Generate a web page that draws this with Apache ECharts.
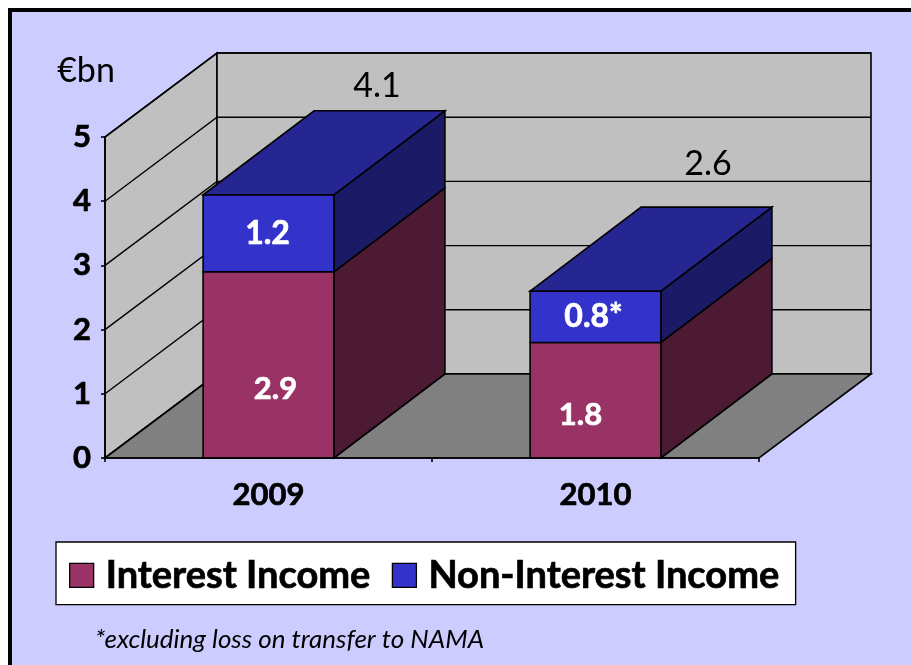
<!DOCTYPE html>
<html>
<head>
<meta charset="utf-8">
<style>html,body{margin:0;padding:0;background:#fff}#c{width:911px;height:665px}</style>
<script src="https://cdn.jsdelivr.net/npm/echarts@6/dist/echarts.min.js"></script>
</head>
<body>
<div id="c"></div>
<script>
const categories = ['2009', '2010'];
const interestIncome = [2.9, 1.8];
const nonInterestIncome = [1.2, 0.8];
const totals = [4.1, 2.6];
const interestLabels = ['2.9', '1.8'];
const nonInterestLabels = ['1.2', '0.8*'];
const totalLabels = ['4.1', '2.6'];
const yTicks = [0, 1, 2, 3, 4, 5];

const FONT = 'Lato, "Open Sans", sans-serif';
const WALL_DEPTH = [112, -84];
const BAR_DEPTH = [111, -84];
const BAR_RATIO = 0.4;
const interestNudge = [[7, 24], [-15, 15]];
const nonInterestNudge = [[-1, 0], [-2, 0]];
const totalNudge = [[108.5, -109], [112.5, -127]];
const LINE = { stroke: '#000', lineWidth: 1.6 };

function poly(points, fill, z2) {
  return { type: 'polygon', z2: z2 || 0, shape: { points }, style: Object.assign({ fill }, LINE) };
}
function barFaces(params, api, colors, drawTop) {
  const idx = api.value(0);
  const base = api.coord([idx, api.value(1)]);
  const top = api.coord([idx, api.value(2)]);
  const w = api.size([1, 0])[0] * BAR_RATIO;
  const l = base[0] - w / 2, r = base[0] + w / 2;
  const dx = BAR_DEPTH[0], dy = BAR_DEPTH[1];
  const faces = [
    poly([[r, base[1]], [r + dx, base[1] + dy], [r + dx, top[1] + dy], [r, top[1]]], colors.side),
    poly([[l, base[1]], [r, base[1]], [r, top[1]], [l, top[1]]], colors.front)
  ];
  if (drawTop) faces.push(poly([[l, top[1]], [r, top[1]], [r + dx, top[1] + dy], [l + dx, top[1] + dy]], colors.top));
  return faces;
}
function labelEl(params, api, text, nudge, fill, weight, size, bold) {
  const idx = api.value(0);
  const a = api.coord([idx, api.value(1)]);
  const b = api.coord([idx, api.value(2)]);
  const style = { text, fill, font: weight + ' ' + size + 'px ' + FONT, align: 'center', verticalAlign: 'middle' };
  if (bold) { style.stroke = fill; style.lineWidth = 0.7; }
  return {
    type: 'text', z2: 5,
    x: a[0] + nudge[idx][0], y: (a[1] + b[1]) / 2 + nudge[idx][1],
    style
  };
}

const option = {
  animation: false,
  backgroundColor: '#CCCCFF',
  grid: { left: 105, top: 137, width: 654, height: 321 },
  tooltip: { show: false },
  xAxis: {
    type: 'category', data: categories, z: 10,
    boundaryGap: true,
    axisLine: { lineStyle: { color: '#000', width: 1.6 } },
    axisTick: { show: true, length: 4, alignWithLabel: false, lineStyle: { color: '#000', width: 1.6 } },
    axisLabel: { color: '#000', fontFamily: FONT, fontWeight: 'bold', fontSize: 31, margin: 21, textBorderColor: '#000', textBorderWidth: 0.7 }
  },
  yAxis: {
    type: 'value', min: 0, max: 5, interval: 1, z: 10,
    splitLine: { show: false },
    axisLine: { show: true, lineStyle: { color: '#000', width: 1.6 } },
    axisTick: { show: true, length: 4, lineStyle: { color: '#000', width: 1.6 } },
    axisLabel: { color: '#000', fontFamily: FONT, fontWeight: 'bold', fontSize: 31, margin: 14, padding: [8, 0, 0, 0], textBorderColor: '#000', textBorderWidth: 0.7 }
  },
  legend: {
    data: ['Interest Income', 'Non-Interest Income'],
    left: 56, top: 542,
    padding: [14, 16, 10, 13],
    itemGap: 21, itemWidth: 24, itemHeight: 24, icon: 'rect',
    backgroundColor: '#fff', borderColor: '#000', borderWidth: 1.3, borderRadius: 0,
    selectedMode: false,
    itemStyle: { borderColor: '#000', borderWidth: 1.3 },
    textStyle: { color: '#000', fontFamily: FONT, fontWeight: 'bold', fontSize: 38, padding: [3, 0, 0, 7], textBorderColor: '#000', textBorderWidth: 0.7 }
  },
  graphic: [
    { type: 'rect', silent: true, z: 100, shape: { x: 0, y: 0, width: 911, height: 8 }, style: { fill: '#fff' } },
    { type: 'rect', silent: true, z: 100, shape: { x: 0, y: 0, width: 8, height: 665 }, style: { fill: '#fff' } },
    { type: 'rect', silent: true, z: 100, shape: { x: 8, y: 8, width: 903, height: 4 }, style: { fill: '#000' } },
    { type: 'rect', silent: true, z: 100, shape: { x: 8, y: 8, width: 4, height: 657 }, style: { fill: '#000' } },
    { type: 'text', silent: true, z: 100, x: 86, y: 71, style: { text: '€bn', fill: '#000', font: '34px ' + FONT, align: 'center', verticalAlign: 'middle' } },
    { type: 'text', silent: true, z: 100, x: 95, y: 640, style: { text: '*excluding loss on transfer to NAMA', fill: '#000', font: 'italic 26px ' + FONT, align: 'left', verticalAlign: 'middle' } }
  ],
  series: [
    {
      name: 'Walls', type: 'custom', z: 1, silent: true,
      data: [[0]],
      encode: { x: 0 },
      renderItem(params, api) {
        const c = params.coordSys;
        const dx = WALL_DEPTH[0], dy = WALL_DEPTH[1];
        const x0 = c.x, x1 = c.x + c.width, y0 = c.y + c.height, y5 = c.y;
        return {
          type: 'group',
          children: [
            poly([[x0, y0], [x0, y5], [x0 + dx, y5 + dy], [x0 + dx, y0 + dy]], '#C0C0C0'),
            poly([[x0 + dx, y0 + dy], [x0 + dx, y5 + dy], [x1 + dx, y5 + dy], [x1 + dx, y0 + dy]], '#C0C0C0')
          ]
        };
      }
    },
    {
      name: 'Gridlines', type: 'custom', z: 1, silent: true,
      data: yTicks.map(v => [0, v]),
      encode: { x: 0, y: 1 },
      renderItem(params, api) {
        const c = params.coordSys;
        const y = api.coord([0, api.value(1)])[1];
        const dx = WALL_DEPTH[0], dy = WALL_DEPTH[1];
        return {
          type: 'polyline',
          shape: { points: [[c.x, y], [c.x + dx, y + dy], [c.x + c.width + dx, y + dy]] },
          style: { fill: 'none', stroke: '#000', lineWidth: 1.4 }
        };
      }
    },
    {
      name: 'Floor', type: 'custom', z: 1, silent: true,
      data: [[0]],
      encode: { x: 0 },
      renderItem(params, api) {
        const c = params.coordSys;
        const dx = WALL_DEPTH[0], dy = WALL_DEPTH[1];
        const x0 = c.x, x1 = c.x + c.width, y0 = c.y + c.height;
        return poly([[x0, y0], [x1, y0], [x1 + dx, y0 + dy], [x0 + dx, y0 + dy]], '#808080');
      }
    },
    {
      name: 'Interest Income', type: 'custom', z: 3,
      itemStyle: { color: '#993366' },
      data: interestIncome.map((v, i) => [i, 0, v]),
      encode: { x: 0, y: 2 },
      renderItem(params, api) {
        return {
          type: 'group',
          children: barFaces(params, api, { front: '#993366', side: '#4D1A33' }, false)
            .concat(labelEl(params, api, interestLabels[params.dataIndex], interestNudge, '#fff', 'bold', 31, true))
        };
      }
    },
    {
      name: 'Non-Interest Income', type: 'custom', z: 4,
      itemStyle: { color: '#3333CC' },
      data: nonInterestIncome.map((v, i) => [i, interestIncome[i], interestIncome[i] + v]),
      encode: { x: 0, y: 2 },
      renderItem(params, api) {
        return {
          type: 'group',
          children: barFaces(params, api, { front: '#3333CC', side: '#1A1A66', top: '#262693' }, true)
            .concat(labelEl(params, api, nonInterestLabels[params.dataIndex], nonInterestNudge, '#fff', 'bold', 32, true))
        };
      }
    },
    {
      name: 'Total', type: 'custom', z: 5, silent: true,
      data: totals.map((v, i) => [i, v, v]),
      encode: { x: 0, y: 1 },
      renderItem(params, api) {
        return labelEl(params, api, totalLabels[params.dataIndex], totalNudge, '#000', 'normal', 34);
      }
    }
  ]
};
echarts.init(document.getElementById('c')).setOption(option);
</script>
</body>
</html>
